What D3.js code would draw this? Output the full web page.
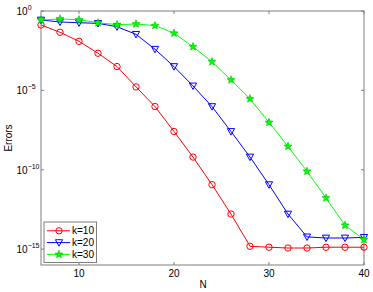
<!DOCTYPE html>
<html><head><meta charset="utf-8">
<script src="https://cdn.jsdelivr.net/npm/d3@7/dist/d3.min.js"></script>
<style>body{margin:0;background:#fff}svg{display:block}</style>
</head><body>
<script>
const N = [6,8,10,12,14,16,18,20,22,24,26,28,30,32,34,36,38,40];
const logErrK10 = [-0.88,-1.34,-1.91,-2.66,-3.5,-4.78,-6.02,-7.59,-9.2,-10.94,-12.79,-14.82,-14.88,-14.93,-14.93,-14.88,-14.88,-14.88];
const logErrK20 = [-0.57,-0.69,-0.74,-0.78,-0.99,-1.47,-2.41,-3.5,-4.72,-6.02,-7.59,-9.2,-10.94,-12.79,-14.23,-14.3,-14.3,-14.26];
const logErrK30 = [-0.57,-0.5,-0.55,-0.74,-0.86,-0.82,-0.92,-1.4,-2.25,-3.2,-4.34,-5.53,-7.02,-8.53,-10.1,-11.78,-13.5,-14.4];
const seriesNames = ["k=10","k=20","k=30"];
const xTicks = [10,20,30,40];
const yTickExp = [0,-5,-10,-15];

const W=373,H=292;
const L=41,R=364,T=11,B=265;
const svg=d3.select("body").append("svg").attr("width",W).attr("height",H);
const x=d3.scaleLinear().domain([6,40]).range([L,R]);
const y=d3.scaleLog().domain([1e-16,1]).range([B,T]);
const font="Liberation Sans, Arial, Helvetica, sans-serif";
const axisColor="#7f7f7f";
const fs=10;

// box
svg.append("rect").attr("x",L).attr("y",T).attr("width",R-L).attr("height",B-T)
  .attr("fill","none").attr("stroke",axisColor).attr("stroke-width",1);

// x ticks
const gx=svg.append("g");
xTicks.forEach(t=>{
  gx.append("line").attr("x1",x(t)).attr("x2",x(t)).attr("y1",B).attr("y2",B-3).attr("stroke",axisColor);
  gx.append("line").attr("x1",x(t)).attr("x2",x(t)).attr("y1",T).attr("y2",T+3).attr("stroke",axisColor);
  gx.append("text").attr("x",x(t)).attr("y",277).attr("text-anchor","middle")
    .attr("font-family",font).attr("font-size",fs).text(t);
});
// y ticks
const gy=svg.append("g");
yTickExp.forEach(e=>{
  const yy=y(Math.pow(10,e));
  gy.append("line").attr("x1",L).attr("x2",L+3).attr("y1",yy).attr("y2",yy).attr("stroke",axisColor);
  gy.append("line").attr("x1",R).attr("x2",R-3).attr("y1",yy).attr("y2",yy).attr("stroke",axisColor);
  const txt=gy.append("text").attr("x",16.5).attr("y",yy+4).attr("font-family",font).attr("font-size",fs);
  txt.append("tspan").text("10");
  txt.append("tspan").attr("dy",-5).attr("font-size",7).text(e===0?"0":"\u2212"+(-e));
});

// axis labels
svg.append("text").attr("x",(L+R)/2+0.5).attr("y",287.5).attr("text-anchor","middle")
  .attr("font-family",font).attr("font-size",fs).text("N");
svg.append("text").attr("transform",`translate(11.5,${(T+B)/2}) rotate(-90)`).attr("text-anchor","middle")
  .attr("font-family",font).attr("font-size",fs).text("Errors");

const colors=["#ff0000","#0000ff","#00ff00"];
const allData=[logErrK10,logErrK20,logErrK30];
const line=d3.line().x(d=>x(d[0])).y(d=>y(Math.pow(10,d[1])));

function drawMarker(g,type,cx,cy,c){
  if(type===0){
    g.append("circle").attr("cx",cx).attr("cy",cy).attr("r",3.2).attr("fill","none").attr("stroke",c).attr("stroke-width",1);
  } else if(type===1){
    const s=3.6;
    g.append("path").attr("d",`M${cx-s},${cy-s*0.8}L${cx+s},${cy-s*0.8}L${cx},${cy+s*1.0}Z`)
      .attr("fill","none").attr("stroke",c).attr("stroke-width",1);
  } else {
    const pts=[];
    for(let i=0;i<10;i++){
      const r=i%2===0?4.2:1.8;
      const a=-Math.PI/2+i*Math.PI/5;
      pts.push([cx+r*Math.cos(a),cy+r*Math.sin(a)]);
    }
    g.append("path").attr("d","M"+pts.map(p=>p.join(",")).join("L")+"Z")
      .attr("fill",c).attr("stroke","#00c000").attr("stroke-width",0.6);
  }
}

allData.forEach((vals,si)=>{
  const data=N.map((n,i)=>[n,vals[i]]);
  const g=svg.append("g");
  g.append("path").datum(data).attr("d",line).attr("fill","none").attr("stroke",colors[si]).attr("stroke-width",1);
  data.forEach(d=>drawMarker(g,si,x(d[0]),y(Math.pow(10,d[1])),colors[si]));
});

// legend
const lg=svg.append("g");
lg.append("rect").attr("x",44).attr("y",222).attr("width",52.5).attr("height",40.5)
  .attr("fill","#fff").attr("stroke",axisColor).attr("stroke-width",1);
seriesNames.forEach((nm,i)=>{
  const yy=230.8+i*11.8;
  lg.append("line").attr("x1",47).attr("x2",70).attr("y1",yy).attr("y2",yy).attr("stroke",colors[i]).attr("stroke-width",1);
  drawMarker(lg,i,59,yy,colors[i]);
  lg.append("text").attr("x",72).attr("y",yy+3.6).attr("font-family",font).attr("font-size",fs).text(nm);
});
</script>
</body></html>
